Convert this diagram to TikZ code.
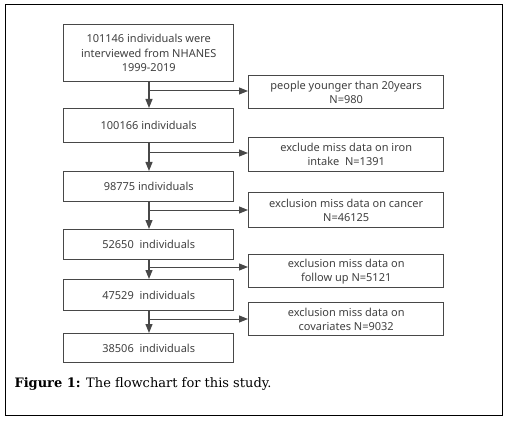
\documentclass[tikz,border=0pt]{standalone}
\usepackage{fontspec}
\setmainfont{DejaVu Serif}
\newfontfamily\boxfont{Noto Sans}
\usetikzlibrary{arrows.meta}
\definecolor{txt}{HTML}{404040}
\definecolor{edge}{HTML}{484848}
\tikzset{
  px/.style={x=1pt,y=-1pt},
  mainbox/.style={draw=edge, line width=1.4pt, minimum width=170pt, align=center, inner sep=0pt, font=\boxfont\fontsize{11}{14.5}\selectfont, text=txt, anchor=north west},
  sidebox/.style={draw=edge, line width=1.4pt, minimum width=195pt, align=center, inner sep=0pt, font=\boxfont\fontsize{11}{14}\selectfont, text=txt, anchor=north west},
  flow/.style={draw=edge, line width=1.2pt, -{Triangle[length=9pt,width=7pt]}},
  branch/.style={draw=edge, line width=1pt, -{Triangle[length=9pt,width=7pt]}}
}
\begin{document}
\begin{tikzpicture}[px]
\useasboundingbox (0,0) rectangle (508,422);
\draw[line width=1pt] (5,5) rectangle (502,415);
\node[mainbox, minimum height=57pt] (b1) at (63,24) {101146 individuals were\\interviewed from NHANES\\1999-2019};
\node[mainbox, minimum height=34pt] (b2) at (63,108) {100166 individuals};
\node[mainbox, minimum height=30pt] (b3) at (63,171) {98775 individuals};
\node[mainbox, minimum height=30pt] (b4) at (63,229) {52650\ \ individuals};
\node[mainbox, minimum height=31pt] (b5) at (63,279) {47529\ \ individuals};
\node[mainbox, minimum height=29pt] (b6) at (63,333) {38506\ \ individuals};
\node[sidebox, minimum height=33pt] (s1) at (248,75) {people younger than 20years\\N=980};
\node[sidebox, minimum height=34pt] (s2) at (248,137) {exclude miss data on iron\\intake\ \ N=1391};
\node[sidebox, minimum height=35pt] (s3) at (248,192) {exclusion miss data on cancer\\N=46125};
\node[sidebox, minimum height=33pt] (s4) at (248,254) {exclusion miss data on\\follow up N=5121};
\node[sidebox, minimum height=33pt] (s5) at (248,302) {exclusion miss data on\\covariates N=9032};
\foreach \a/\b/\s/\y in {b1/b2/s1/91, b2/b3/s2/153, b3/b4/s3/210, b4/b5/s4/267, b5/b6/s5/319}{
  \draw[flow] (\a.south -| 149,0) -- (\b.north -| 149,0);
  \coordinate (j\s) at (149,\y);
  \draw[branch] (j\s) -- (j\s -| \s.west);
}
\node[anchor=west, font=\fontsize{13}{15}\selectfont] (cap) at (11,384) {\textbf{Figure 1:} The flowchart for this study.};
\end{tikzpicture}
\end{document}
